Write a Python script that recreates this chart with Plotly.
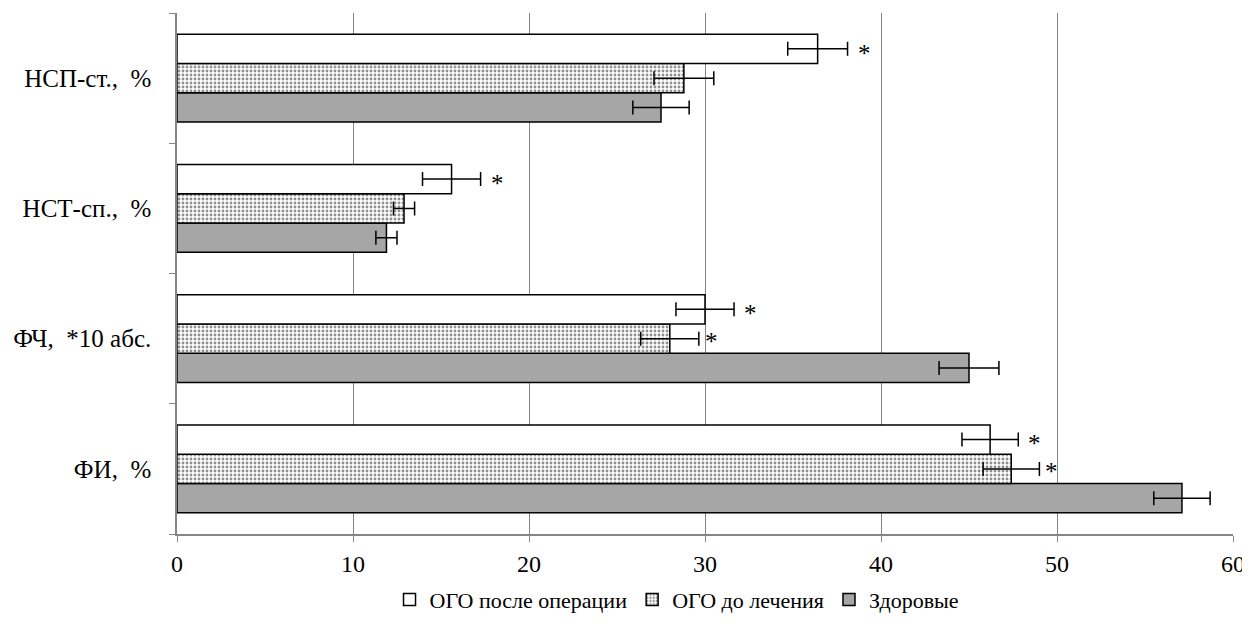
import plotly.graph_objects as go

categories = ["ФИ,\u00a0 %", "ФЧ,\u00a0 *10 абс.", "НСТ-сп.,\u00a0 %", "НСП-ст.,\u00a0 %"]
series_names = ["ОГО после операции", "ОГО до лечения", "Здоровые"]

after_vals = [46.2, 30.0, 15.6, 36.4]
after_err = [1.6, 1.65, 1.65, 1.7]
before_vals = [47.4, 28.0, 12.9, 28.8]
before_err = [1.6, 1.65, 0.6, 1.7]
healthy_vals = [57.1, 45.0, 11.9, 27.5]
healthy_err = [1.6, 1.7, 0.6, 1.6]

after_star = [True, True, True, True]
before_star = [True, True, False, False]

x_ticks = [0, 10, 20, 30, 40, 50, 60]

FONT = "Liberation Serif"
GRID = "#868686"

fig = go.Figure()

err_style = dict(type="data", visible=True, color="black", thickness=1.5, width=7)

fig.add_trace(go.Bar(
    y=categories, x=healthy_vals, name=series_names[2], orientation="h",
    marker=dict(color="#A6A6A6", line=dict(color="black", width=1.5)),
    error_x=dict(array=healthy_err, **err_style),
))
fig.add_trace(go.Bar(
    y=categories, x=before_vals, name=series_names[1], orientation="h",
    marker=dict(color="white", line=dict(color="black", width=1.5),
                pattern=dict(shape=".", fgcolor="#222222", bgcolor="white",
                             size=4, solidity=0.4)),
    error_x=dict(array=before_err, **err_style),
))
fig.add_trace(go.Bar(
    y=categories, x=after_vals, name=series_names[0], orientation="h",
    marker=dict(color="white", line=dict(color="black", width=1.5)),
    error_x=dict(array=after_err, **err_style),
))

annotations = []
for i, c in enumerate(categories):
    if after_star[i]:
        annotations.append(dict(x=after_vals[i] + after_err[i], y=c, xref="x", yref="y",
                                text="*", showarrow=False, xanchor="left", yanchor="middle",
                                xshift=8, yshift=25, font=dict(family=FONT, size=25, color="black")))
    if before_star[i]:
        annotations.append(dict(x=before_vals[i] + before_err[i], y=c, xref="x", yref="y",
                                text="*", showarrow=False, xanchor="left", yanchor="middle",
                                xshift=4, yshift=-3, font=dict(family=FONT, size=25, color="black")))

fig.update_layout(
    width=1242, height=618,
    margin=dict(l=169, r=15, t=5, b=89),
    paper_bgcolor="white", plot_bgcolor="white",
    barmode="group", bargap=0.325, bargroupgap=0,
    font=dict(family=FONT, size=22, color="black"),
    showlegend=True,
    legend=dict(orientation="h", traceorder="reversed", x=0.4735, xanchor="center",
                y=-0.126, yanchor="middle", font=dict(family=FONT, size=22, color="black"),
                itemwidth=30, bgcolor="rgba(0,0,0,0)"),
    annotations=annotations,
)

fig.update_xaxes(
    range=[0, 60], tickvals=x_ticks, ticktext=[str(t) for t in x_ticks],
    showgrid=True, gridcolor=GRID, gridwidth=1,
    showline=True, linecolor=GRID, linewidth=1.5,
    ticks="outside", ticklen=6, tickcolor=GRID, tickwidth=1,
    zeroline=False, tickfont=dict(family=FONT, size=24, color="black"),
    ticklabelstandoff=1,
)
fig.update_yaxes(
    categoryorder="array", categoryarray=categories,
    showgrid=False, showline=True, linecolor=GRID, linewidth=1.5,
    ticks="outside", ticklen=6, tickcolor=GRID, tickwidth=1, tickson="boundaries",
    tickfont=dict(family=FONT, size=25, color="black"),
    ticklabelstandoff=19,
)

fig.write_html("out.html")
